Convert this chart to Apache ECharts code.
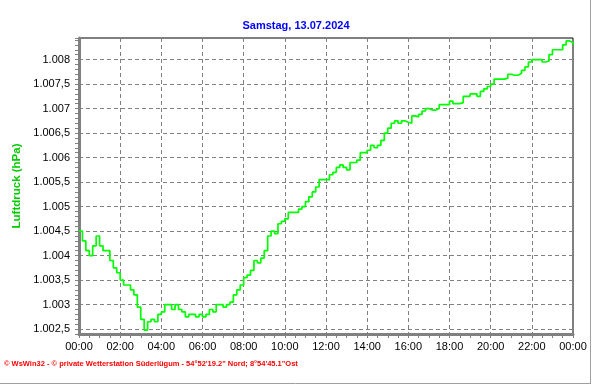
<!DOCTYPE html>
<html><head><meta charset="utf-8">
<script src="https://cdn.jsdelivr.net/npm/echarts@6/dist/echarts.min.js"></script>
<style>html,body{margin:0;padding:0;background:#fff}#c{width:592px;height:384px}</style>
</head><body><div id="c"></div>
<script>
const chartTitle = 'Samstag, 13.07.2024';
const yAxisName = 'Luftdruck (hPa)';
const footerText = '\u00a9 WsWin32 - \u00a9 private Wetterstation S\u00fcderl\u00fcgum - 54\u00b052\'19.2" Nord; 8\u00b054\'45.1"Ost';
const sampleMinutes = 10;
const pressure = [
  1004.5, 1004.3, 1004.1, 1004.0, 1004.2, 1004.4, 1004.2, 1004.1, 1004.1, 1003.9, 1003.75, 1003.65,
  1003.5, 1003.4, 1003.4, 1003.3, 1003.2, 1002.95, 1002.7, 1002.48, 1002.65, 1002.7, 1002.65, 1002.8,
  1002.85, 1003.0, 1003.0, 1002.9, 1003.0, 1002.9, 1002.85, 1002.75, 1002.8, 1002.8, 1002.75, 1002.8,
  1002.75, 1002.8, 1002.9, 1002.85, 1003.0, 1003.0, 1002.95, 1003.0, 1003.05, 1003.2, 1003.3, 1003.4,
  1003.55, 1003.6, 1003.7, 1003.9, 1003.85, 1003.95, 1004.1, 1004.4, 1004.5, 1004.45, 1004.65, 1004.7,
  1004.75, 1004.88, 1004.88, 1004.88, 1004.95, 1005.0, 1005.1, 1005.2, 1005.3, 1005.4, 1005.55, 1005.55,
  1005.55, 1005.65, 1005.7, 1005.8, 1005.85, 1005.8, 1005.75, 1005.9, 1005.9, 1005.95, 1006.1, 1006.1,
  1006.15, 1006.25, 1006.2, 1006.25, 1006.35, 1006.5, 1006.6, 1006.7, 1006.75, 1006.7, 1006.75, 1006.72,
  1006.7, 1006.85, 1006.83, 1006.88, 1006.95, 1007.0, 1006.97, 1006.97, 1007.0, 1007.08, 1007.08, 1007.08,
  1007.15, 1007.1, 1007.1, 1007.12, 1007.25, 1007.25, 1007.3, 1007.3, 1007.25, 1007.35, 1007.4, 1007.45,
  1007.5, 1007.6, 1007.6, 1007.6, 1007.62, 1007.7, 1007.68, 1007.68, 1007.72, 1007.78, 1007.85, 1007.95,
  1008.0, 1008.0, 1008.0, 1007.95, 1007.97, 1008.1, 1008.2, 1008.2, 1008.2, 1008.3, 1008.38, 1008.35, 1008.3
];
const yGridValues = [1002.5, 1003, 1003.5, 1004, 1004.5, 1005, 1005.5, 1006, 1006.5, 1007, 1007.5, 1008];
const xTickLabels = ['00:00','02:00','04:00','06:00','08:00','10:00','12:00','14:00','16:00','18:00','20:00','22:00','00:00'];

const seriesData = pressure.map((v, i) => [i * sampleMinutes, v]);
const FONT = '"Liberation Sans", Arial, sans-serif';

function fmtY(v) {
  const hit = yGridValues.find(g => Math.abs(g - v) < 1e-6);
  if (hit === undefined) return '';
  const ip = Math.floor(hit + 1e-9);
  const frac = Math.round((hit - ip) * 10);
  const s = String(ip);
  const withSep = s.length > 3 ? s.slice(0, s.length - 3) + '.' + s.slice(-3) : s;
  return frac ? withSep + ',' + frac : withSep;
}

const chart = echarts.init(document.getElementById('c'), null, {renderer: 'canvas'});
chart.setOption({
  animation: false,
  backgroundColor: '#ffffff',
  textStyle: {fontFamily: FONT},
  title: {
    text: chartTitle, left: 'center', top: 15,
    textStyle: {color: '#0000ff', fontSize: 11, fontWeight: 'bold', fontFamily: FONT}
  },
  grid: {left: 79, right: 19, top: 38, bottom: 50, show: true, borderColor: '#000', borderWidth: 1, backgroundColor: 'transparent'},
  xAxis: {
    type: 'value', min: 0, max: 1440, interval: 120,
    axisLine: {show: true, onZero: false, lineStyle: {color: '#808080', width: 3}},
    axisTick: {show: true, length: 4, lineStyle: {color: '#808080', width: 1}},
    minorTick: {show: true, splitNumber: 4, length: 4, lineStyle: {color: '#808080', width: 1}},
    axisLabel: {color: '#000', fontSize: 11, margin: 7, fontFamily: FONT,
      formatter: v => xTickLabels[Math.round(v / 120)] || ''},
    splitLine: {show: true, showMinLine: false, showMaxLine: false, lineStyle: {color: '#808080', type: [4, 3], width: 1}}
  },
  yAxis: {
    type: 'value', min: 1002.4, max: 1008.44, interval: 0.1,
    name: yAxisName, nameLocation: 'middle', nameRotate: 90, nameGap: 53,
    nameTextStyle: {color: '#00cc00', fontSize: 11.5, fontWeight: 'bold', fontFamily: FONT},
    axisLine: {show: true, onZero: false, lineStyle: {color: '#808080', width: 3}},
    axisTick: {show: true, length: 4, lineStyle: {color: '#808080', width: 1}},
    axisLabel: {color: '#000', fontSize: 11, margin: 9, fontFamily: FONT, formatter: fmtY},
    splitLine: {show: false}
  },
  series: [{
    type: 'line', step: 'end', data: seriesData, showSymbol: false, z: 3,
    lineStyle: {color: '#00ff00', width: 1.7},
    markLine: {
      silent: true, z: 1, symbol: ['none', 'none'], label: {show: false},
      lineStyle: {color: '#808080', type: [4, 3], width: 1},
      data: yGridValues.map(v => ({yAxis: v}))
    }
  }],
  graphic: [
    {type: 'text', left: 4, top: 360, style: {text: footerText, fill: '#ff0000', font: 'bold 7.5px ' + FONT}},
    {type: 'line', shape: {x1: 590.5, y1: 0, x2: 590.5, y2: 384}, style: {stroke: '#a0a0a0', lineWidth: 1}},
    {type: 'line', shape: {x1: 0, y1: 383.5, x2: 591, y2: 383.5}, style: {stroke: '#a0a0a0', lineWidth: 1}}
  ]
});
</script></body></html>
